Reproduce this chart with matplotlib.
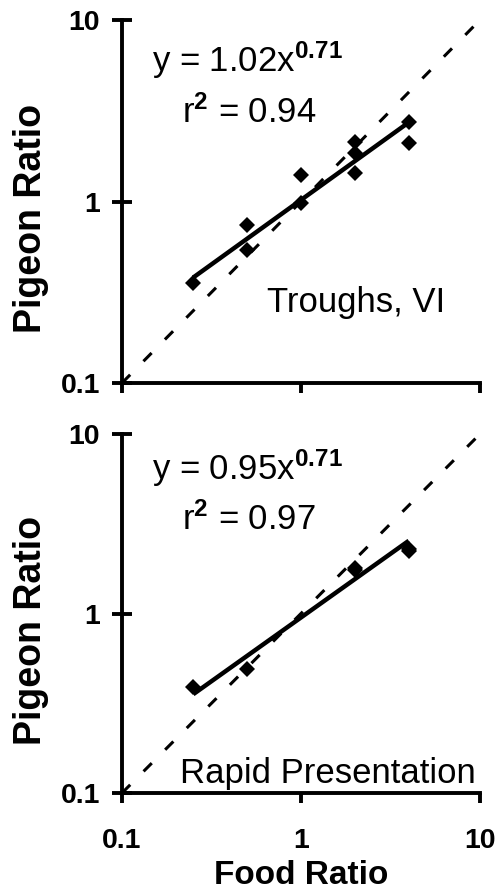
import matplotlib
matplotlib.use("Agg")
import matplotlib.pyplot as plt
import numpy as np

plt.rcParams['font.family'] = ['Liberation Sans', 'DejaVu Sans']
plt.rcParams['mathtext.fontset'] = 'custom'
plt.rcParams['mathtext.rm'] = 'Liberation Sans'
plt.rcParams['mathtext.it'] = 'Liberation Sans:italic'
plt.rcParams['mathtext.bf'] = 'Liberation Sans:bold'

# ---- data ----
food_top = [0.25, 0.5, 0.5, 1, 1, 2, 2, 2, 4, 4]
pigeon_top = [0.357, 0.74, 0.54, 1.40, 0.98, 2.12, 1.84, 1.43, 2.73, 2.11]
food_bot = [0.25, 0.5, 2, 2, 4, 4]
pigeon_bot = [0.39, 0.49, 1.80, 1.74, 2.30, 2.22]

fit_x = [0.25, 4]
coef_top, exp_top = 1.02, 0.71
coef_bot, exp_bot = 0.95, 0.71
identity = [0.1, 10]

eq_top = r"y = 1.02x$^{\mathbf{0.71}}$"
r2_top = r"r$^{\mathbf{2}}$ = 0.94"
eq_bot = r"y = 0.95x$^{\mathbf{0.71}}$"
r2_bot = r"r$^{\mathbf{2}}$ = 0.97"
label_top = "Troughs, VI"
label_bot = "Rapid Presentation"
ticks = [0.1, 1, 10]
tick_labels = ["0.1", "1", "10"]

W, H = 500, 892
fig = plt.figure(figsize=(W / 100, H / 100), dpi=100)

def axes_px(x0, x1, ytop, ybot):
    return fig.add_axes([x0 / W, 1 - ybot / H, (x1 - x0) / W, (ybot - ytop) / H])

ax1 = axes_px(122, 480, 20, 383)
ax2 = axes_px(122, 480, 434, 793)

def style(ax, xlabels):
    ax.set_xscale('log')
    ax.set_yscale('log')
    ax.set_xlim(0.1, 10)
    ax.set_ylim(0.1, 10)
    for s in ['top', 'right']:
        ax.spines[s].set_visible(False)
    for s in ['left', 'bottom']:
        ax.spines[s].set_linewidth(2.8)
    ax.xaxis.set_major_locator(matplotlib.ticker.FixedLocator(ticks))
    ax.yaxis.set_major_locator(matplotlib.ticker.FixedLocator(ticks))
    ax.xaxis.set_minor_locator(matplotlib.ticker.NullLocator())
    ax.yaxis.set_minor_locator(matplotlib.ticker.NullLocator())
    ax.set_yticklabels(tick_labels, fontsize=20.5, fontweight='bold')
    if xlabels:
        ax.set_xticklabels(tick_labels, fontsize=20.5, fontweight='bold')
    else:
        ax.set_xticklabels([])
    ax.tick_params(axis='y', direction='inout', length=14, width=2.8, pad=9)
    ax.tick_params(axis='x', direction='out', length=7, width=2.8, pad=18)

def panel(ax, fx, py, coef, ex, eq, r2, lab, labpos):
    fxa = np.array(fit_x, dtype=float)
    ax.plot(identity, identity, color='black', lw=2.2, dashes=(3.8, 6.2), zorder=1)
    ax.plot(fxa, coef * fxa ** ex, color='black', lw=3.2, solid_capstyle='butt', zorder=2)
    ax.plot(fx, py, linestyle='none', marker='D', ms=8.5, color='black', mew=0, zorder=3)
    ax.text(0.084, labpos[0], eq, transform=ax.transAxes, fontsize=25, va='baseline', ha='left')
    ax.text(0.168, labpos[1], r2, transform=ax.transAxes, fontsize=25, va='baseline', ha='left')
    ax.text(labpos[2], labpos[3], lab, transform=ax.transAxes, fontsize=25, va='baseline', ha='left')

style(ax1, False)
style(ax2, True)
panel(ax1, food_top, pigeon_top, coef_top, exp_top, eq_top, r2_top, label_top,
      ((383 - 72) / 363, (383 - 123) / 363, (267 - 122) / 358, (383 - 312) / 363))
panel(ax2, food_bot, pigeon_bot, coef_bot, exp_bot, eq_bot, r2_bot, label_bot,
      ((793 - 480) / 359, (793 - 530) / 359, (180 - 122) / 358, (793 - 783) / 359))

fig.text(31 / W, 1 - 218 / H, "Pigeon Ratio", rotation=90, fontsize=27, fontweight='bold',
         ha='center', va='center')
fig.text(31 / W, 1 - 630 / H, "Pigeon Ratio", rotation=90, fontsize=27, fontweight='bold',
         ha='center', va='center')
fig.text(301 / W, 1 - 891 / H, "Food Ratio", fontsize=24, fontweight='bold',
         ha='center', va='bottom')

fig.savefig("out.png", dpi=100)
